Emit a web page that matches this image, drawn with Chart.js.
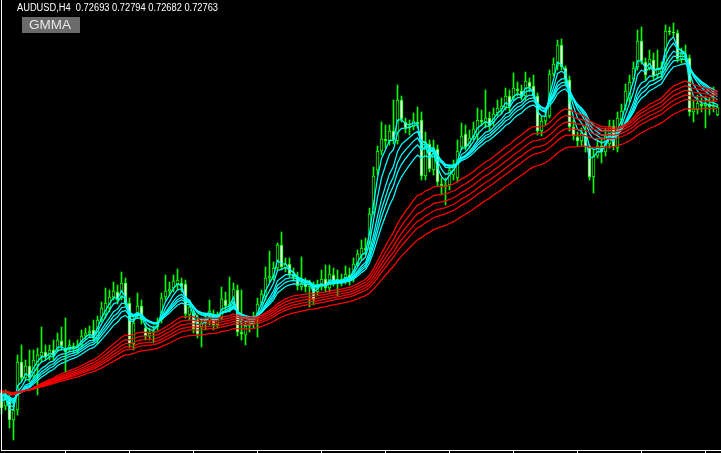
<!DOCTYPE html>
<html><head><meta charset="utf-8">
<script src="https://cdn.jsdelivr.net/npm/chart.js@4.4.0/dist/chart.umd.min.js"></script>
<style>
html,body{margin:0;padding:0;background:#000;}
#wrap{position:relative;width:721px;height:453px;overflow:hidden;background:#000;}
#c{position:absolute;left:0;top:0;}
#sym{position:absolute;left:17px;top:2px;font-family:"Liberation Sans",Arial,sans-serif;font-size:10px;line-height:12px;color:#fff;white-space:pre;transform-origin:0 0;}
#gm{position:absolute;left:22px;top:17px;width:58px;height:16px;background:#6b6b6b;}
#gmt{position:absolute;left:29px;top:17px;font-family:"Liberation Sans",Arial,sans-serif;font-size:13px;line-height:16px;color:#e6e6e6;white-space:pre;transform-origin:0 0;}
</style></head>
<body><div id="wrap"><canvas id="c" width="721" height="453"></canvas>
<div id="sym"></div><div id="gm"></div><div id="gmt">GMMA</div></div>
<script>
const symbol = "AUDUSD";
const timeframe = "H4";
const indicatorName = "GMMA";
const firstBar = -3;           // three bars of history before the visible window
const tickEvery = 16;          // bottom-axis tick every 16 bars

const opens = [0.6996,0.6994,0.6984,
0.6989,0.6978,0.6986,0.6964,0.6974,0.7022,0.7006,0.7018,0.7008,0.7019,
0.7028,0.7032,0.7028,0.7034,0.7034,0.7043,0.7036,0.7034,0.7038,0.7034,
0.7039,0.7048,0.7051,0.7054,0.7044,0.7064,0.7070,0.7076,0.7087,0.7092,
0.7086,0.7101,0.7081,0.7040,0.7068,0.7078,0.7056,0.7048,0.7051,0.7057,
0.7064,0.7087,0.7093,0.7096,0.7100,0.7101,0.7100,0.7069,0.7071,0.7064,
0.7057,0.7061,0.7063,0.7070,0.7059,0.7066,0.7084,0.7077,0.7081,0.7094,
0.7052,0.7049,0.7058,0.7060,0.7066,0.7081,0.7088,0.7106,0.7107,0.7116,
0.7139,0.7116,0.7120,0.7110,0.7107,0.7097,0.7100,0.7097,0.7098,0.7092,
0.7097,0.7105,0.7096,0.7109,0.7103,0.7105,0.7103,0.7109,0.7106,0.7120,
0.7129,0.7136,0.7136,0.7172,0.7214,0.7233,0.7245,0.7243,0.7253,0.7243,
0.7284,0.7262,0.7256,0.7257,0.7262,0.7264,0.7208,0.7240,0.7214,0.7235,
0.7200,0.7197,0.7199,0.7209,0.7206,0.7237,0.7250,0.7238,0.7247,0.7249,
0.7264,0.7261,0.7266,0.7262,0.7271,0.7275,0.7277,0.7288,0.7286,0.7295,
0.7293,0.7288,0.7302,0.7298,0.7288,0.7253,0.7263,0.7268,0.7310,0.7318,
0.7339,0.7316,0.7304,0.7257,0.7247,0.7243,0.7251,0.7236,0.7207,0.7228,
0.7238,0.7232,0.7240,0.7258,0.7236,0.7264,0.7278,0.7286,0.7305,0.7317,
0.7343,0.7322,0.7316,0.7324,0.7309,0.7312,0.7317,0.7353,0.7352,0.7351,
0.7325,0.7329,0.7326,0.7272,0.7274,0.7280,0.7278,0.7280,0.7277,0.72693];

const highs = [0.7000,0.6997,0.6993,
0.6994,0.6994,0.6992,0.6984,0.7029,0.7039,0.7024,0.7034,0.7034,0.7036,
0.7057,0.7039,0.7039,0.7044,0.7051,0.7057,0.7066,0.7044,0.7041,0.7044,
0.7054,0.7056,0.7058,0.7064,0.7068,0.7082,0.7096,0.7094,0.7102,0.7099,
0.7112,0.7106,0.7086,0.7066,0.7091,0.7084,0.7060,0.7056,0.7058,0.7066,
0.7091,0.7109,0.7102,0.7109,0.7115,0.7106,0.7104,0.7084,0.7074,0.7069,
0.7066,0.7070,0.7084,0.7074,0.7072,0.7097,0.7092,0.7107,0.7101,0.7099,
0.7094,0.7062,0.7066,0.7072,0.7086,0.7094,0.7117,0.7133,0.7122,0.7141,
0.7152,0.7126,0.7126,0.7116,0.7112,0.7127,0.7106,0.7104,0.7102,0.7104,
0.7114,0.7119,0.7119,0.7116,0.7114,0.7110,0.7118,0.7116,0.7126,0.7134,
0.7144,0.7146,0.7176,0.7217,0.7238,0.7262,0.7259,0.7259,0.7284,0.7299,
0.7288,0.7266,0.7264,0.7271,0.7277,0.7272,0.7252,0.7244,0.7244,0.7239,
0.7206,0.7206,0.7219,0.7224,0.7244,0.7261,0.7259,0.7254,0.7262,0.7276,
0.7274,0.7294,0.7272,0.7276,0.7284,0.7286,0.7296,0.7294,0.7311,0.7302,
0.7299,0.7312,0.7306,0.7309,0.7291,0.7267,0.7274,0.7314,0.7326,0.7344,
0.7345,0.7318,0.7308,0.7264,0.7252,0.7256,0.7258,0.7239,0.7234,0.7244,
0.7246,0.7256,0.7264,0.7264,0.7272,0.7280,0.7300,0.7309,0.7322,0.7354,
0.7357,0.7326,0.7334,0.7331,0.7334,0.7322,0.7359,0.7357,0.7361,0.7354,
0.7336,0.7339,0.7329,0.7284,0.7289,0.7286,0.7288,0.7286,0.7297,0.72794];

const lows = [0.6990,0.6980,0.6978,
0.6970,0.6974,0.6956,0.6944,0.6969,0.7002,0.7004,0.7002,0.7006,0.6989,
0.7022,0.7024,0.7024,0.7024,0.7032,0.7034,0.7012,0.7032,0.7031,0.7030,
0.7037,0.7045,0.7047,0.7043,0.7040,0.7062,0.7066,0.7072,0.7084,0.7080,
0.7084,0.7078,0.7036,0.7034,0.7066,0.7060,0.7044,0.7044,0.7041,0.7054,
0.7061,0.7084,0.7088,0.7092,0.7094,0.7092,0.7066,0.7064,0.7051,0.7046,
0.7037,0.7054,0.7059,0.7054,0.7056,0.7064,0.7074,0.7072,0.7079,0.7048,
0.7044,0.7039,0.7052,0.7056,0.7047,0.7079,0.7084,0.7102,0.7104,0.7114,
0.7114,0.7112,0.7107,0.7104,0.7094,0.7094,0.7092,0.7077,0.7079,0.7089,
0.7094,0.7092,0.7092,0.7098,0.7088,0.7098,0.7100,0.7099,0.7102,0.7118,
0.7124,0.7129,0.7134,0.7170,0.7209,0.7229,0.7236,0.7239,0.7240,0.7240,
0.7262,0.7251,0.7249,0.7254,0.7256,0.7204,0.7204,0.7212,0.7209,0.7198,
0.7189,0.7179,0.7194,0.7204,0.7202,0.7234,0.7234,0.7236,0.7244,0.7244,
0.7258,0.7256,0.7254,0.7258,0.7268,0.7270,0.7274,0.7272,0.7284,0.7288,
0.7284,0.7284,0.7292,0.7286,0.7249,0.7248,0.7259,0.7266,0.7308,0.7314,
0.7314,0.7298,0.7253,0.7244,0.7238,0.7238,0.7232,0.7204,0.7191,0.7226,
0.7221,0.7228,0.7236,0.7234,0.7232,0.7259,0.7274,0.7282,0.7302,0.7314,
0.7320,0.7304,0.7314,0.7304,0.7306,0.7306,0.7314,0.7349,0.7348,0.7322,
0.7321,0.7322,0.7268,0.7262,0.7270,0.7272,0.7256,0.7269,0.7272,0.72682];

const closes = [0.6994,0.6984,0.6989,
0.6976,0.6988,0.6964,0.6974,0.7022,0.7006,0.7018,0.7006,0.7024,0.7029,
0.7032,0.7027,0.7034,0.7028,0.7044,0.7038,0.7032,0.7039,0.7035,0.7039,
0.7048,0.7051,0.7053,0.7046,0.7064,0.7076,0.7081,0.7087,0.7093,0.7084,
0.7101,0.7081,0.7040,0.7061,0.7078,0.7064,0.7048,0.7051,0.7053,0.7062,
0.7086,0.7093,0.7095,0.7103,0.7104,0.7097,0.7070,0.7077,0.7055,0.7050,
0.7061,0.7064,0.7073,0.7059,0.7066,0.7085,0.7078,0.7080,0.7095,0.7052,
0.7050,0.7058,0.7060,0.7065,0.7080,0.7090,0.7106,0.7108,0.7116,0.7139,
0.7117,0.7120,0.7110,0.7107,0.7098,0.7101,0.7097,0.7100,0.7084,0.7098,
0.7105,0.7096,0.7110,0.7103,0.7105,0.7102,0.7110,0.7106,0.7120,0.7130,
0.7136,0.7134,0.7170,0.7208,0.7233,0.7245,0.7243,0.7253,0.7244,0.7284,
0.7265,0.7256,0.7258,0.7263,0.7260,0.7208,0.7241,0.7215,0.7236,0.7202,
0.7198,0.7199,0.7214,0.7219,0.7233,0.7248,0.7237,0.7246,0.7255,0.7264,
0.7262,0.7266,0.7258,0.7270,0.7276,0.7278,0.7288,0.7277,0.7296,0.7293,
0.7287,0.7303,0.7297,0.7288,0.7253,0.7263,0.7268,0.7310,0.7320,0.7339,
0.7317,0.7305,0.7257,0.7248,0.7243,0.7251,0.7237,0.7207,0.7228,0.7238,
0.7232,0.7248,0.7258,0.7237,0.7266,0.7273,0.7293,0.7302,0.7316,0.7343,
0.7323,0.7309,0.7325,0.7308,0.7316,0.7317,0.7353,0.7352,0.7351,0.7325,
0.7330,0.7326,0.7272,0.7275,0.7281,0.7278,0.7280,0.7277,0.7278,0.72763];

const shortPeriods = [3, 5, 8, 10, 12, 15];
const longPeriods  = [30, 35, 40, 45, 50, 60];
const priceMin = 0.6933, priceMax = 0.7384;

const bars = closes.map((_, k) => k + firstBar);
const lastBar = bars[bars.length - 1];

function ema(values, n) {
  const a = 2 / (n + 1);
  const out = [];
  let e = values[0];
  values.forEach((v, k) => { e = k === 0 ? v : a * v + (1 - a) * e; out.push(e); });
  return out;
}

const L = closes.length - 1;
const f5 = v => v.toFixed(5);
document.getElementById('sym').textContent =
  symbol + ',' + timeframe + '  ' + [opens[L], highs[L], lows[L], closes[L]].map(f5).join(' ');
document.getElementById('gmt').textContent = indicatorName;

function fitWidth(el, target) {
  const w = el.getBoundingClientRect().width;
  if (w > 0) el.style.transform = 'scaleX(' + (target / w) + ')';
}
fitWidth(document.getElementById('sym'), 201);
fitWidth(document.getElementById('gmt'), 42);

const GREEN = '#00ff00', CYAN = '#00ffff', RED = '#ff0000';
const datasets = [];
longPeriods.forEach(p => datasets.push({
  type: 'line', data: ema(closes, p).map((v, k) => ({x: bars[k], y: v})),
  borderColor: RED, borderWidth: 1.25, pointRadius: 0, tension: 0, order: 0
}));
shortPeriods.forEach(p => datasets.push({
  type: 'line', data: ema(closes, p).map((v, k) => ({x: bars[k], y: v})),
  borderColor: CYAN, borderWidth: 1.25, pointRadius: 0, tension: 0, order: 1
}));
datasets.push({
  type: 'bar', data: bars.map((b, k) => ({x: b, y: [opens[k], closes[k]]})),
  barThickness: 3, borderWidth: 1, borderColor: GREEN, borderSkipped: false, grouped: false,
  backgroundColor: ctx => { const k = ctx.dataIndex; return closes[k] >= opens[k] ? '#000000' : '#ffffff'; },
  order: 2
});
datasets.push({
  type: 'bar', data: bars.map((b, k) => ({x: b, y: [lows[k], highs[k]]})),
  barThickness: 1, borderWidth: 0, backgroundColor: GREEN, grouped: false, order: 3
});

const framePlugin = {
  id: 'frame',
  afterDraw(chart) {
    const c = chart.ctx, a = chart.chartArea, xs = chart.scales.x;
    c.save();
    c.fillStyle = '#ffffff';
    c.fillRect(1, 0, 1, a.bottom);
    c.fillRect(1, a.bottom - 1, a.right - 1, 1);
    for (let b = tickEvery; b <= lastBar; b += tickEvery) {
      const px = Math.round(xs.getPixelForValue(b) - 0.5);
      c.fillRect(px, a.bottom, 1, 2);
    }
    c.restore();
  }
};

new Chart(document.getElementById('c'), {
  type: 'bar',
  data: { datasets },
  options: {
    responsive: false, animation: false, devicePixelRatio: 1,
    layout: { padding: { left: 0, right: 0, top: 0, bottom: 2 } },
    plugins: { legend: { display: false }, tooltip: { enabled: false } },
    scales: {
      x: { type: 'linear', min: -0.375, max: lastBar + 0.875, offset: false, display: false },
      y: { min: priceMin, max: priceMax, display: false }
    }
  },
  plugins: [framePlugin]
});
</script>
</body></html>
